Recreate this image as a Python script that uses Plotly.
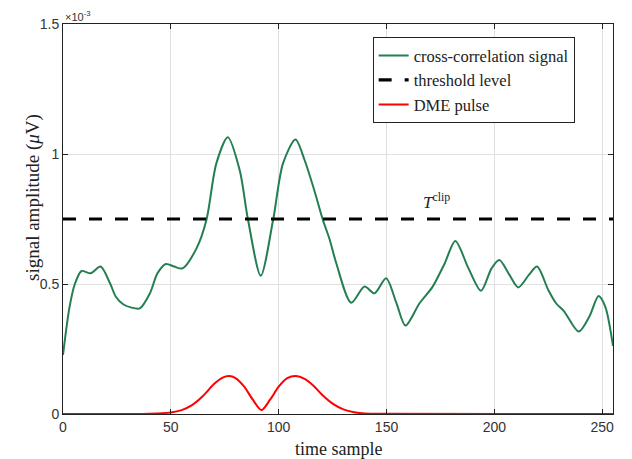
import plotly.graph_objects as go

# time samples and values (units of 1e-3 uV)
xcorr_t = [0, 3, 5.5, 8.6, 12.8, 17.4, 21.8, 24.5, 27.9, 31.4, 35.6, 40.3, 43.8, 47.7, 51.6, 55.4,
           61.9, 66.5, 71.1, 76.4, 81.9, 85.8, 91.7, 97.4, 102, 107.8, 112, 116.7, 120.5, 123.6,
           126.7, 133.6, 139.8, 144.4, 149.8, 154.6, 158.8, 165.3, 171.4, 177, 181.9, 188,
           193.8, 198.7, 202.3, 207, 211.1, 216, 219.8, 225, 228.6, 232.4, 239.1, 244, 248.3,
           251.4, 255]
xcorr_v = [0.227, 0.41, 0.50, 0.55, 0.541, 0.567, 0.503, 0.451, 0.422, 0.41, 0.406, 0.464, 0.541,
           0.577, 0.567, 0.560, 0.637, 0.746, 0.964, 1.064, 0.938, 0.746, 0.532, 0.746, 0.964,
           1.056, 0.977, 0.855, 0.746, 0.672, 0.580, 0.428, 0.49, 0.464, 0.522, 0.426, 0.340,
           0.426, 0.49, 0.58, 0.665, 0.56, 0.474, 0.56, 0.592, 0.535, 0.487, 0.535, 0.567,
           0.477, 0.426, 0.394, 0.317, 0.374, 0.454, 0.413, 0.262]

pulse_t = [0, 40, 50, 55, 60, 65, 70, 74, 77, 80, 84, 88, 92, 96, 100, 104, 108, 112, 116, 120,
           125, 130, 135, 140, 150, 255]
pulse_v = [0, 0.001, 0.006, 0.015, 0.035, 0.07, 0.115, 0.14, 0.146, 0.138, 0.105, 0.055, 0.015,
           0.055, 0.105, 0.138, 0.146, 0.135, 0.11, 0.075, 0.04, 0.018, 0.007, 0.002, 0.0005, 0]

threshold = 0.75
x_range = [0, 255]
x_ticks = [0, 50, 100, 150, 200, 250]
y_ticks = [0, 0.5, 1, 1.5]
y_ticklabels = ["0", "0.5", "1", "1.5"]

serif = "Liberation Serif"
sans = "Liberation Sans"

fig = go.Figure()
fig.add_trace(go.Scatter(x=xcorr_t, y=xcorr_v, mode="lines", name="cross-correlation signal",
                         line=dict(color="#237f52", width=2, shape="spline", smoothing=0.8)))
fig.add_trace(go.Scatter(x=x_range, y=[threshold, threshold], mode="lines", name="threshold level",
                         line=dict(color="black", width=3.2, dash="13px,13px")))
fig.add_trace(go.Scatter(x=pulse_t, y=pulse_v, mode="lines", name="DME pulse",
                         line=dict(color="#ff0000", width=2, shape="spline", smoothing=0.8)))

fig.add_annotation(x=173, y=0.82, text="<i>T</i><sup>clip</sup>", showarrow=False,
                   font=dict(family=serif, size=17, color="#222"))
fig.add_annotation(x=0, y=1, xref="paper", yref="paper", xanchor="left", yanchor="bottom",
                   text="×10<sup>-3</sup>", showarrow=False, xshift=0, yshift=-1,
                   font=dict(family=sans, size=11, color="#333"))
# axis titles
fig.add_annotation(x=0.5, y=-0.0897, xref="paper", yref="paper", xanchor="center",
                   yanchor="middle", text="time sample", showarrow=False,
                   font=dict(family=serif, size=18, color="#222"))
fig.add_annotation(x=-0.0545, y=0.554, xref="paper", yref="paper", xanchor="center",
                   yanchor="middle", text="signal amplitude (<i>μ</i>V)", showarrow=False,
                   textangle=-90, font=dict(family=serif, size=19, color="#222"))

axis_common = dict(showline=True, linecolor="#222", linewidth=1, mirror="ticks",
                   ticks="inside", ticklen=5, tickcolor="#222", automargin=False,
                   showgrid=True, gridcolor="#e0e0e0", gridwidth=1, zeroline=False,
                   tickfont=dict(family=sans, size=14, color="#333"))

fig.update_xaxes(range=x_range, tickvals=x_ticks, **axis_common)
fig.update_yaxes(range=[0, 1.5], tickvals=y_ticks, ticktext=y_ticklabels, **axis_common)

fig.update_layout(
    width=632, height=459,
    margin=dict(l=63, r=19, t=24, b=45),
    plot_bgcolor="white", paper_bgcolor="white",
    showlegend=True,
    legend=dict(x=0.563, y=0.966, xanchor="left", yanchor="top",
                bgcolor="white", bordercolor="#222", borderwidth=1,
                font=dict(family=serif, size=16.5, color="#222"),
                tracegroupgap=0, itemwidth=30),
)

fig.write_html("out.html")
